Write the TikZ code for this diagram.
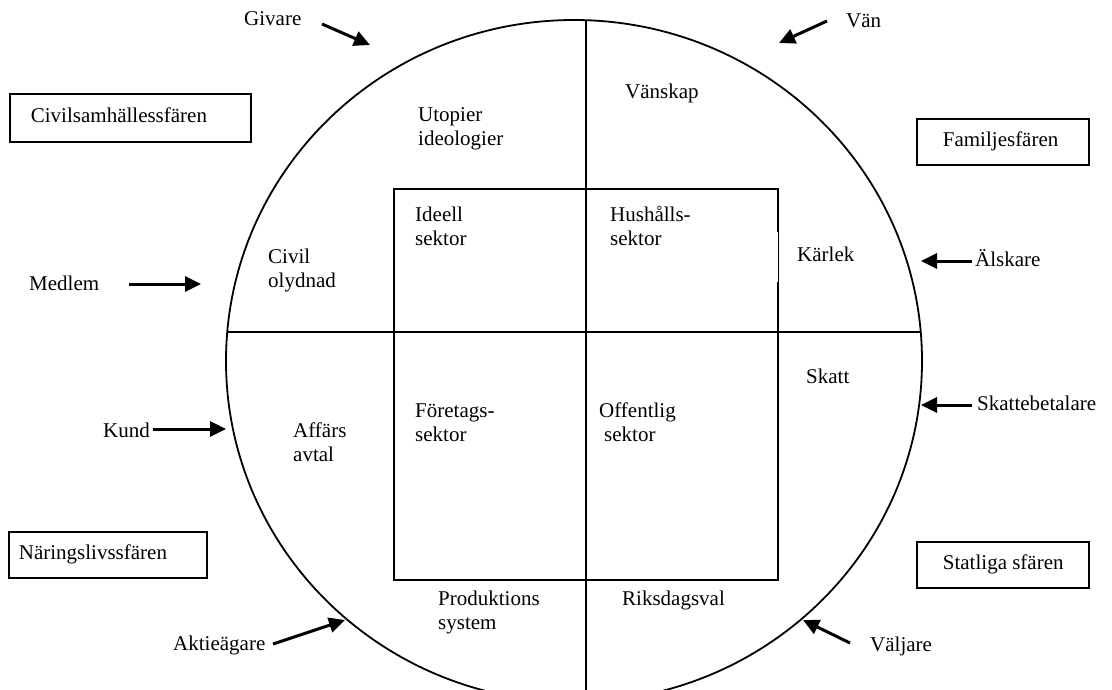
\documentclass[tikz,border=0pt]{standalone}
\usepackage{fontspec}
\setmainfont{Liberation Serif}
\usetikzlibrary{arrows.meta}
\newcommand\myfs{\fontsize{21}{24}\selectfont}
\newcommand\mystrut{\rule{0pt}{19pt}}
\begin{document}
\begin{tikzpicture}[x=1pt,y=-1pt,
  lbl/.style={anchor=north west,inner sep=0pt,align=left,font=\myfs},
  sphere/.style={draw,line width=1.8pt,anchor=north west,inner ysep=0pt,inner xsep=4pt,font=\myfs,text height=15pt,text depth=5pt,align=flush left},
  arr/.style={line width=3pt,-{Triangle[length=16pt,width=15pt]}},
  frame/.style={line width=1.8pt}]
\clip (0,0) rectangle (1112,690);
\fill[white] (0,0) rectangle (1112,690);

% circle and axes
\draw[frame] (574,361) ellipse [x radius=348, y radius=341];
\draw[frame] (586,20) -- (586,700);
\draw[frame] (227.3,332) -- (920.7,332);

% inner rectangle
\draw[frame] (778,232) -- (778,189) -- (394,189) -- (394,580) -- (778,580) -- (778,282);
\draw[line width=0.5pt] (778,232) -- (778,282);

% sphere boxes
\node[sphere,minimum height=48pt,text width=233pt] (civ) at (9,93) {\hspace*{17pt}Civilsamhällessfären};
\node[sphere,minimum height=46pt,text width=164pt] (fam) at (916,118) {\hspace*{22pt}Familjesfären};
\node[sphere,minimum height=46pt,text width=190pt] (nar) at (8,531) {\hspace*{6pt}Näringslivssfären};
\node[sphere,minimum height=46pt,text width=164pt] (sta) at (916,541) {\hspace*{22pt}Statliga sfären};

% labels
\node[lbl] (givare) at (244,6) {\mystrut Givare};
\node[lbl] (van) at (846,8) {\mystrut Vän};
\node[lbl] (utopier) at (418,102) {\mystrut Utopier\\ideologier};
\node[lbl] (vanskap) at (625,79) {\mystrut Vänskap};
\node[lbl] (ideell) at (415,202) {\mystrut Ideell\\sektor};
\node[lbl] (hushall) at (610,202) {\mystrut Hushålls-\\sektor};
\node[lbl] (karlek) at (797,242) {\mystrut Kärlek};
\node[lbl] (civil) at (268,244) {\mystrut Civil\\olydnad};
\node[lbl] (medlem) at (29,271) {\mystrut Medlem};
\node[lbl] (alskare) at (975,247) {\mystrut Älskare};
\node[lbl] (skatt) at (806,364) {\mystrut Skatt};
\node[lbl] (skattebet) at (977,391) {\mystrut Skattebetalare};
\node[lbl] (foretag) at (415,398) {\mystrut Företags-\\sektor};
\node[lbl] (offentlig) at (599,398) {\mystrut Offentlig\\\hspace*{5pt}sektor};
\node[lbl] (affars) at (293,418) {\mystrut Affärs\\avtal};
\node[lbl] (kund) at (103,418) {\mystrut Kund};
\node[lbl] (produktion) at (438,586) {\mystrut Produktions\\system};
\node[lbl] (riksdag) at (622,586) {\mystrut Riksdagsval};
\node[lbl] (aktie) at (173,631) {\mystrut Aktieägare};
\node[lbl] (valjare) at (870,632) {\mystrut Väljare};

% arrow end points
\coordinate (givareT) at (322,24);  \coordinate (givareH) at (370,45);
\coordinate (vanT) at (827,21);     \coordinate (vanH) at (779,43);
\coordinate (medlemT) at (129,284); \coordinate (medlemH) at (201,284);
\coordinate (kundT) at (153,429);   \coordinate (kundH) at (226,429);
\coordinate (aktieT) at (273,644);  \coordinate (aktieH) at (345,620);
\coordinate (alskT) at (972,261);   \coordinate (alskH) at (921,261);
\coordinate (skatT) at (972,405);   \coordinate (skatH) at (921,405);
\coordinate (valjT) at (850,643);   \coordinate (valjH) at (803,620);

\draw[arr] (givareT) -- (givareH);
\draw[arr] (vanT) -- (vanH);
\draw[arr] (medlemT) -- (medlemH);
\draw[arr] (kundT) -- (kundH);
\draw[arr] (aktieT) -- (aktieH);
\draw[arr] (alskT) -- (alskH);
\draw[arr] (skatT) -- (skatH);
\draw[arr] (valjT) -- (valjH);
\end{tikzpicture}
\end{document}
